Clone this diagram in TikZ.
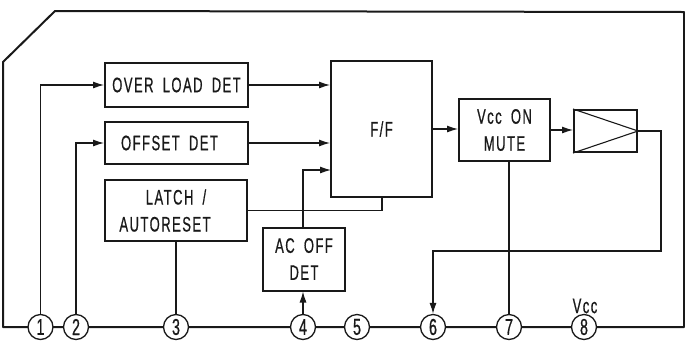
\documentclass[tikz,border=0pt]{standalone}
\usepackage{fontspec}
\usepackage{xcolor}
\usetikzlibrary{arrows.meta}
\newfontfamily\blockfont[FakeStretch=0.62, LetterSpace=7, FakeBold=0.6, WordSpace=1.8]{Liberation Sans}
\definecolor{inkDark}{RGB}{25,25,25}

\begin{document}
\begin{tikzpicture}[x=1pt, y=-1pt,
    every node/.style={text=inkDark},
    block/.style={draw=inkDark, line width=2pt, inner sep=0pt, align=center,
        font=\blockfont\fontsize{21}{27}\selectfont},
    pin/.style={draw=inkDark, fill=white, circle, line width=1.3pt,
        minimum size=25pt, inner sep=0pt, font=\blockfont\fontsize{23}{23}\selectfont},
    wire/.style={draw=inkDark, line width=1.1pt},
    feed/.style={wire, -{Latex[length=11pt,width=7pt]}}]
\useasboundingbox (0,0) rectangle (685,341);

% Package outline
\draw[inkDark, line width=2pt, line join=round]
    (3,327) -- (3,62) -- (55,11) -- (684,12) -- (684,327) -- cycle;

% Blocks
\node[block, minimum width=143pt, minimum height=44pt] (ovl) at (176.5,85) {OVER LOAD DET};
\node[block, minimum width=143pt, minimum height=42pt] (ofs) at (176.5,143) {OFFSET DET\hspace*{14pt}};
\node[block, minimum width=142pt, minimum height=61pt] (latch) at (176,210.5) {LATCH /\\AUTORESET\hspace*{22pt}};
\node[block, minimum width=82pt, minimum height=63pt] (acoff) at (304,259) {AC OFF\\DET};
\node[block, minimum width=101pt, minimum height=136pt] (ff) at (381.5,129) {F/F};
\node[block, minimum width=91pt, minimum height=62pt] (mute) at (504.5,130) {Vcc ON\\MUTE};
\node[block, minimum width=63pt, minimum height=42pt] (amp) at (605.5,131) {};
\draw[wire] (amp.north west) -- (amp.east) -- (amp.south west);

% Pins
\node[pin] (p1) at (40.5,327) {1};
\node[pin] (p2) at (76,327) {2};
\node[pin] (p3) at (176,327) {3};
\node[pin] (p4) at (303,327) {4};
\node[pin] (p5) at (357,327) {5};
\node[pin] (p6) at (433,327) {6};
\node[pin] (p7) at (509,327) {7};
\node[pin] (p8) at (584,327) {8};
\node[font=\blockfont\fontsize{21}{21}\selectfont] (vcc) at (585,306) {Vcc};

% Signal paths
\coordinate (ffin3) at (331,170);
\coordinate (fflo) at (382,197);
\coordinate (loopR) at (661,251);
\draw[feed] (p1.north) |- (ovl.west);
\draw[feed] (p2.north) |- (ofs.west);
\draw[feed] (ovl.east) -- (ovl.east -| ff.west);
\draw[feed] (ofs.east) -- (ofs.east -| ff.west);
\draw[feed] (acoff.north -| p4) |- (ffin3);
\draw[wire] (latch.east) -| (fflo);
\draw[wire] (latch.south -| p3) -- (p3.north);
\draw[feed] (p4.north) -- (p4.north |- acoff.south);
\draw[feed] (ff.east) -- (ff.east -| mute.west);
\draw[feed] (mute.east) -- (mute.east -| amp.west);
\draw[feed] (amp.east) -| (loopR) -| (p6.north);
\draw[wire] (p7.north |- mute.south) -- (p7.north);

\end{tikzpicture}
\end{document}
